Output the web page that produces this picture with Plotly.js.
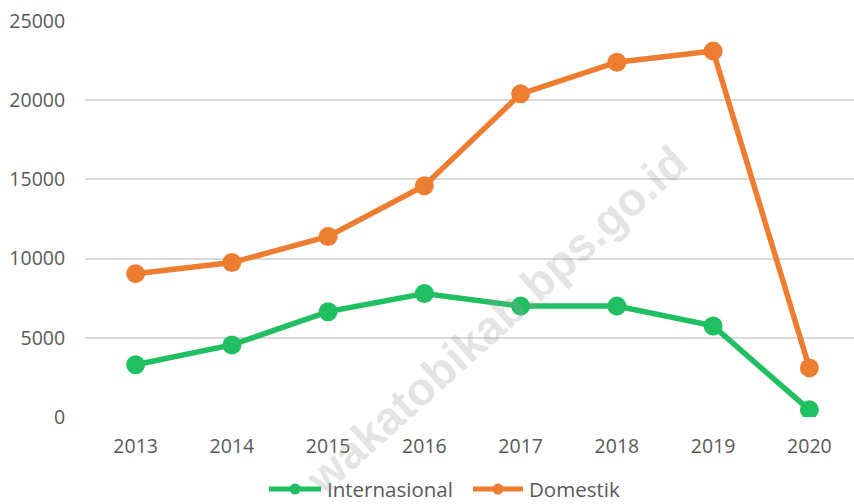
<!DOCTYPE html>
<html>
<head>
<meta charset="utf-8">
<script src="https://cdn.plot.ly/plotly-3.0.1.min.js"></script>
<style>
  html, body { margin: 0; padding: 0; overflow: hidden; background: #fff; }
  #chart { width: 860px; height: 504px; }
</style>
</head>
<body>
<div id="chart"></div>
<script>
const years = ['2013', '2014', '2015', '2016', '2017', '2018', '2019', '2020'];
const internasional = [3300, 4550, 6650, 7800, 7000, 7000, 5750, 450];
const domestik = [9050, 9750, 11400, 14600, 20400, 22400, 23100, 3100];
const yTicks = [0, 5000, 10000, 15000, 20000, 25000];
const seriesNames = ['Internasional', 'Domestik'];

const green = '#20BF62';
const orange = '#ED7D31';
const textColor = '#595959';
const font = 'Open Sans, sans-serif';

const traces = [
  {
    x: years, y: internasional, name: seriesNames[0], type: 'scatter', mode: 'lines+markers',
    line: { color: green, width: 5.5 }, marker: { color: green, size: 19 }
  },
  {
    x: years, y: domestik, name: seriesNames[1], type: 'scatter', mode: 'lines+markers',
    line: { color: orange, width: 5.5 }, marker: { color: orange, size: 19 }
  }
];

// Legend drawn in paper coordinates (plot area: x 85..860 px, y 21..417 px)
const W = 775, H = 396, L = 85, B = 417;
const px = v => (v - L) / W;
const py = v => (B - v) / H;
const legendY = py(489);
const legendItems = [
  { name: seriesNames[0], color: green, x0: 269, x1: 321, tx: 325 },
  { name: seriesNames[1], color: orange, x0: 473, x1: 523, tx: 527 }
];
const shapes = [];
const annotations = [];
legendItems.forEach(it => {
  shapes.push({
    type: 'line', xref: 'paper', yref: 'paper',
    x0: px(it.x0), x1: px(it.x1), y0: legendY, y1: legendY,
    line: { color: it.color, width: 5 }
  });
  shapes.push({
    type: 'circle', xref: 'paper', yref: 'paper', xsizemode: 'pixel', ysizemode: 'pixel',
    xanchor: px((it.x0 + it.x1) / 2), yanchor: legendY, x0: -5.5, x1: 5.5, y0: -5.5, y1: 5.5,
    fillcolor: it.color, line: { width: 0 }
  });
  annotations.push({
    text: it.name, xref: 'paper', yref: 'paper', x: px(it.tx), y: legendY,
    xanchor: 'left', yanchor: 'middle', showarrow: false,
    font: { family: font, size: 20.5, color: textColor }
  });
});
annotations.push({
  text: '<b>wakatobikab.bps.go.id</b>', xref: 'paper', yref: 'paper',
  x: px(496), y: py(320), xanchor: 'center', yanchor: 'middle', showarrow: false,
  textangle: -42, font: { family: 'Liberation Sans, Arial, sans-serif', size: 46, color: 'rgba(160,160,160,0.3)' }
});

const layout = {
  width: 860, height: 504,
  margin: { l: 85, r: 0, t: 21, b: 87, pad: 0, autoexpand: false },
  paper_bgcolor: '#ffffff', plot_bgcolor: '#ffffff',
  font: { family: font, size: 19.5, color: textColor },
  showlegend: false,
  xaxis: {
    type: 'category', showgrid: false, zeroline: false, showline: false,
    ticks: 'outside', ticklen: 12, tickcolor: 'rgba(0,0,0,0)',
    tickfont: { family: font, size: 19.5, color: textColor }
  },
  yaxis: {
    range: [0, 25000], tickvals: yTicks, ticktext: yTicks.map(String),
    showgrid: true, gridcolor: '#d9d9d9', gridwidth: 2, zeroline: false, showline: false,
    ticks: 'outside', ticklen: 15, tickcolor: 'rgba(0,0,0,0)',
    tickfont: { family: font, size: 19.5, color: textColor }
  },
  shapes: shapes,
  annotations: annotations
};

Plotly.newPlot('chart', traces, layout, { displayModeBar: false, staticPlot: true });
</script>
</body>
</html>
